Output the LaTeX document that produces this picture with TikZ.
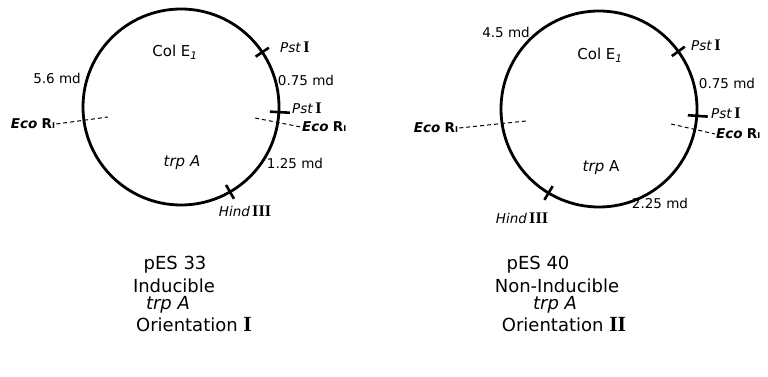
\documentclass[tikz,border=0pt]{standalone}
\usepackage{fontspec}
\setmainfont{DejaVu Sans}
\newfontfamily\romfont[Scale=1.2]{Liberation Serif}
\newcommand{\romnum}[1]{{\romfont\bfseries #1}}
\newcommand{\pst}{\textit{Pst}\,\romnum{I}}
\newcommand{\eco}{{\bfseries\itshape Eco} {\bfseries R{\footnotesize I}}}
\newcommand{\hind}{\textit{Hind}\,\romnum{III}}
\usetikzlibrary{calc}
\begin{document}
\begin{tikzpicture}[x=1pt,y=-1pt,
	anillo/.style={line width=2.8pt},
	corte/.style={line width=2.6pt},
	sitio/.style={dash pattern=on 4pt off 3pt, line width=1pt},
	rot/.style={font=\fontsize{13.5}{15}\selectfont, inner sep=1pt},
	pie/.style={font=\fontsize{18}{20}\selectfont, inner sep=0pt}]
	\useasboundingbox (0,0) rectangle (768,377);
	
	% Plasmido pES 33
	\coordinate (c1) at (181,107);
	\draw[anillo] (c1) circle (98pt);
	\node[rot] (col1) at (175,52) {\fontsize{15}{17}\selectfont Col E\textsubscript{\textit{1}}};
	\node[rot] (trp1) at (182,163) {\fontsize{15}{17}\selectfont\textit{trp A}};
	\node[rot] (md56) at (57,78) {5.6 md};
	\node[rot] (md075a) at (306,80) {0.75 md};
	\node[rot] (md125) at (295,163) {1.25 md};
	
	% Cortes de pES 33
	\draw[corte] ($(c1)+(34:90pt)$) -- ($(c1)+(34:106pt)$);
	\draw[corte] ($(c1)+(-3:89pt)$) -- ($(c1)+(-3:109pt)$);
	\draw[corte] ($(c1)+(-60:90pt)$) -- ($(c1)+(-60:106pt)$);
	\node[rot, anchor=west] (pstA1) at (279,47) {\pst};
	\node[rot, anchor=west] (pstB1) at (291,108) {\pst};
	\node[rot] (hind1) at (245,211) {\hind};
	
	% Sitios Eco RI de pES 33
	\node[rot] (ecoL1) at (33,124) {\eco};
	\node[rot, anchor=west] (ecoR1) at (301,127) {\eco};
	\coordinate (eL1) at (108,117);
	\coordinate (eR1) at (255,118);
	\draw[sitio] (ecoL1.east) -- (eL1);
	\draw[sitio] (eR1) -- (ecoR1.west);
	
	% Plasmido pES 40
	\coordinate (c2) at (599,109);
	\draw[anillo] (c2) circle (98pt);
	\node[rot] (col2) at (600,55) {\fontsize{15}{17}\selectfont Col E\textsubscript{\textit{1}}};
	\node[rot] (trp2) at (601,168) {\fontsize{15}{17}\selectfont\textit{trp} A};
	\node[rot] (md45) at (506,32) {4.5 md};
	\node[rot] (md075b) at (727,83) {0.75 md};
	\node[rot] (md225) at (660,203) {2.25 md};
	
	% Cortes de pES 40
	\draw[corte] ($(c2)+(36:90pt)$) -- ($(c2)+(36:106pt)$);
	\draw[corte] ($(c2)+(-4:89pt)$) -- ($(c2)+(-4:109pt)$);
	\draw[corte] ($(c2)+(-121:90pt)$) -- ($(c2)+(-121:106pt)$);
	\node[rot, anchor=west] (pstA2) at (690,45) {\pst};
	\node[rot, anchor=west] (pstB2) at (710,113) {\pst};
	\node[rot] (hind2) at (522,218) {\hind};
	
	% Sitios Eco RI de pES 40
	\node[rot] (ecoL2) at (436,128) {\eco};
	\node[rot, anchor=west] (ecoR2) at (715,134) {\eco};
	\coordinate (eL2) at (526,121);
	\coordinate (eR2) at (671,124);
	\draw[sitio] (ecoL2.east) -- (eL2);
	\draw[sitio] (eR2) -- (ecoR2.west);
	
	% Leyendas
	\node[pie] (nom1) at (175,265) {pES 33};
	\node[pie] (ind1) at (174,286) {Inducible};
	\node[pie] (gen1) at (168,305) {\textit{trp A}};
	\node[pie] (ori1) at (194,325) {Orientation \romnum{I}};
	\node[pie] (nom2) at (538,265) {pES 40};
	\node[pie] (ind2) at (557,286) {Non-Inducible};
	\node[pie] (gen2) at (555,305) {\textit{trp A}};
	\node[pie] (ori2) at (564,325) {Orientation \romnum{II}};
	
\end{tikzpicture}
\end{document}
